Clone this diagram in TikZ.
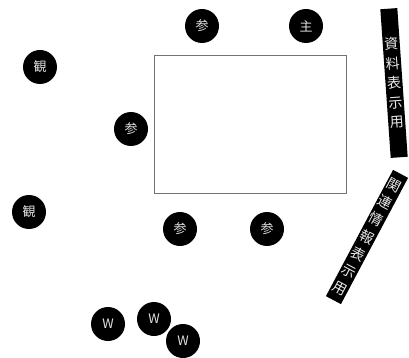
\documentclass[tikz,border=0pt]{standalone}
\usepackage{fontspec}
\newfontfamily\cjk{Noto Sans CJK JP}
\begin{document}
\begin{tikzpicture}[x=1pt,y=-1pt,
  badge/.style={circle,fill=black,minimum size=34pt,inner sep=0pt,text=white!88!black,font=\cjk\fontsize{13}{13}\selectfont},
  bar/.style={rectangle,fill=black,minimum width=17pt,inner sep=0pt,text=white!92!black,align=center,font=\cjk\fontsize{14}{19.5}\selectfont},
  stagebox/.style={draw=black!55,line width=0.8pt,minimum width=192pt,minimum height=138pt,inner sep=0pt}]
\useasboundingbox (0,0) rectangle (409,358);
\node[stagebox] (stage) at (250,124) {};
\node[badge] (p1) at (202,26) {参};
\node[badge] (m) at (306,26) {主};
\node[badge] (k1) at (40,67) {観};
\node[badge] (p2) at (131,129) {参};
\node[badge] (k2) at (29,212) {観};
\node[badge] (p3) at (180,229) {参};
\node[badge] (p4) at (267,229) {参};
\node[badge] (w1) at (108,324) {W};
\node[badge] (w2) at (154,319) {W};
\node[badge] (w3) at (183,341) {W};
\node[bar,minimum height=149pt,rotate=4] (doc) at (394,83) {資\\料\\表\\示\\用};
\node[bar,minimum height=143pt,rotate=-28] (rel) at (367,237) {関\\連\\情\\報\\表\\示\\用};
\end{tikzpicture}
\end{document}
